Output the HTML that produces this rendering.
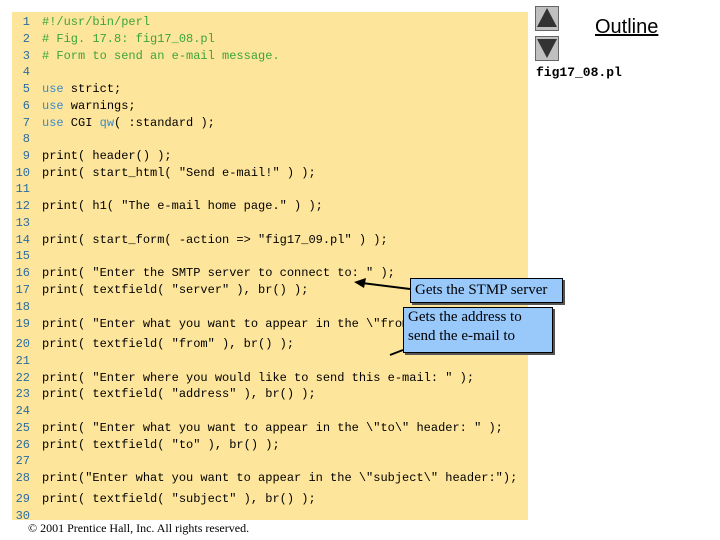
<!DOCTYPE html>
<html><head><style>
body{margin:0;width:720px;height:540px;background:#fff;position:relative;overflow:hidden}
#box{position:absolute;left:12px;top:12px;width:516px;height:508px;background:#fde59b}
.l{position:absolute;left:0;font:12px "Liberation Mono",monospace;white-space:pre;color:#000;line-height:14px}
.n{position:absolute;width:30px;text-align:right;left:0;color:#2a6ca0;font:12px "Liberation Mono",monospace;line-height:14px}
.c{color:#3aa53a}.k{color:#3a8ac8}
.call{position:absolute;background:#99c8fa;border:1px solid #000;font:15px "Liberation Serif",serif;color:#000;box-shadow:2px 2px 0 #555;padding:0 4px;line-height:19px}
.btn{position:absolute;left:535px;width:22px;height:23px;background:#c0c0c0;border:1px solid #666}
</style></head><body>
<div id="box"></div>
<div id="code"></div>
<div class="call" style="left:410px;top:278px;width:143px;height:23px;line-height:23px">Gets the STMP server</div>
<div class="call" style="left:403px;top:307px;width:140px;height:44px">Gets the address to<br>send the e-mail to</div>
<svg style="position:absolute;left:0;top:0" width="720" height="540">
<line x1="410" y1="289" x2="362" y2="283" stroke="#000" stroke-width="2"/>
<polygon points="354,282 366,278 364,288" fill="#000"/>
<line x1="403" y1="350" x2="390" y2="355" stroke="#000" stroke-width="2"/>
<polygon points="547,8 557,27 537,27" fill="#333"/>
<polygon points="537,39 557,39 547,58" fill="#333"/>
</svg>
<div class="btn" style="top:6px;z-index:-1"></div>
<div class="btn" style="top:36px;z-index:-1"></div>
<div style="position:absolute;left:595px;top:16px;font:20px 'Liberation Sans',sans-serif;text-decoration:underline">Outline</div>
<div style="position:absolute;left:536px;top:65px;font:bold 13px 'Liberation Mono',monospace">fig17_08.pl</div>
<div style="position:absolute;left:28px;top:521px;font:12px 'Liberation Serif',serif">© 2001 Prentice Hall, Inc. All rights reserved.</div>
<script>
var L=[[22,'<span class="c">#!/usr/bin/perl</span>'],[39,'<span class="c"># Fig. 17.8: fig17_08.pl</span>'],[56,'<span class="c"># Form to send an e-mail message.</span>'],[72,''],[89,'<span class="k">use</span> strict;'],[106,'<span class="k">use</span> warnings;'],[123,'<span class="k">use</span> CGI <span class="k">qw</span>( :standard );'],[139,''],[156,'print( header() );'],[173,'print( start_html( "Send e-mail!" ) );'],[189,''],[206,'print( h1( "The e-mail home page." ) );'],[223,''],[240,'print( start_form( -action =&gt; "fig17_09.pl" ) );'],[256,''],[273,'print( "Enter the SMTP server to connect to: " );'],[290,'print( textfield( "server" ), br() );'],[307,''],[324,'print( "Enter what you want to appear in the \\"from\\" header: " );'],[344,'print( textfield( "from" ), br() );'],[361,''],[378,'print( "Enter where you would like to send this e-mail: " );'],[394,'print( textfield( "address" ), br() );'],[411,''],[428,'print( "Enter what you want to appear in the \\"to\\" header: " );'],[445,'print( textfield( "to" ), br() );'],[461,''],[478,'print("Enter what you want to appear in the \\"subject\\" header:");'],[499,'print( textfield( "subject" ), br() );'],[516,'']];
var h='';L.forEach(function(a,i){h+='<div class="n" style="top:'+(a[0]-7)+'px">'+(i+1)+'</div><div class="l" style="left:42px;top:'+(a[0]-7)+'px">'+a[1]+'</div>';});
document.getElementById('code').innerHTML=h;
</script>
</body></html>
